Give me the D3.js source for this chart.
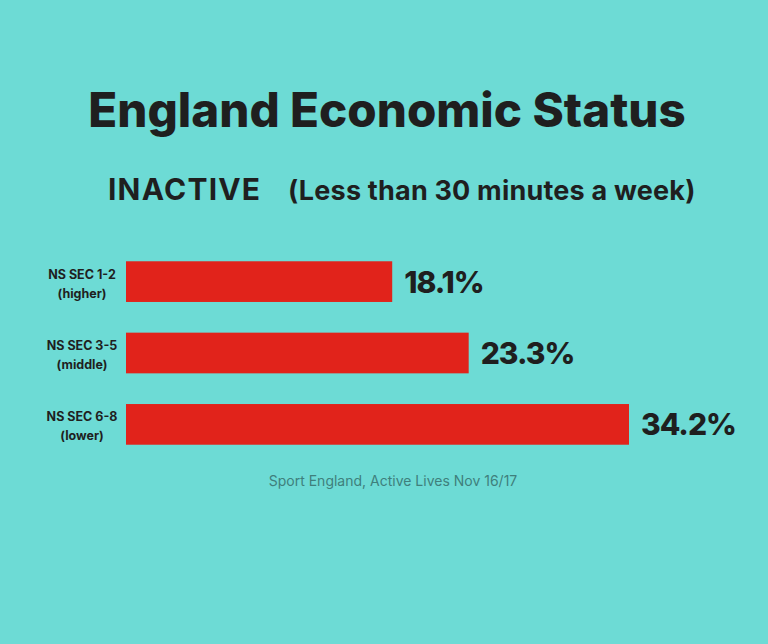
<!DOCTYPE html>
<html><head><meta charset="utf-8">
<script src="https://cdn.jsdelivr.net/npm/d3@7"></script>
<style>html,body{margin:0;padding:0;background:#6ddbd5;}svg{display:block;}</style>
</head><body>
<script>
const categories = ["NS SEC 1-2", "NS SEC 3-5", "NS SEC 6-8"];
const subLabels = ["(higher)", "(middle)", "(lower)"];
const values = [18.1, 23.3, 34.2];
const valueLabels = ["18.1%", "23.3%", "34.2%"];
const title = "England Economic Status";
const subtitleA = "INACTIVE";
const subtitleB = "(Less than 30 minutes a week)";
const source = "Sport England, Active Lives Nov 16/17";

const W = 768, H = 644;
const svg = d3.select("body").append("svg").attr("width", W).attr("height", H);
svg.append("rect").attr("width", W).attr("height", H).attr("fill", "#6ddbd5");

const font = "Inter, 'Open Sans', sans-serif";
const ink = "#1f1f1f";

svg.append("text").attr("x", 387).attr("y", 127).attr("text-anchor", "middle")
  .attr("font-family", font).attr("font-weight", 800).attr("font-size", 47.5)
  .attr("fill", ink).text(title);

svg.append("text").attr("x", 108).attr("y", 200)
  .attr("font-family", font).attr("font-weight", 700).attr("font-size", 30)
  .attr("letter-spacing", 1.2)
  .attr("fill", ink).text(subtitleA);
svg.append("text").attr("x", 288).attr("y", 200)
  .attr("font-family", font).attr("font-weight", 700).attr("font-size", 27)
  .attr("letter-spacing", 0.2)
  .attr("fill", ink).text(subtitleB);

const x = d3.scaleLinear().domain([0, 34.2]).range([126, 629]);
const y = d3.scaleBand().domain(categories).range([247, 459]).paddingInner(0.43).paddingOuter(0.2);

const g = svg.append("g");
g.selectAll("rect.bar").data(categories).join("rect").attr("class", "bar")
  .attr("x", x(0)).attr("y", d => y(d))
  .attr("width", (d, i) => x(values[i]) - x(0)).attr("height", y.bandwidth())
  .attr("fill", "#e1231b");

g.selectAll("text.val").data(categories).join("text").attr("class", "val")
  .attr("x", (d, i) => x(values[i]) + 12).attr("y", d => y(d) + y.bandwidth() / 2 + 11)
  .attr("font-family", font).attr("font-weight", 800).attr("font-size", 30)
  .attr("letter-spacing", -1)
  .attr("fill", ink).text((d, i) => valueLabels[i]);

const lab = g.selectAll("text.cat").data(categories).join("text").attr("class", "cat")
  .attr("x", 82).attr("y", d => y(d) + y.bandwidth() / 2 - 3)
  .attr("text-anchor", "middle")
  .attr("font-family", font).attr("font-weight", 700).attr("font-size", 12.5)
  .attr("fill", ink);
lab.append("tspan").attr("x", 82).text(d => d);
lab.append("tspan").attr("x", 82).attr("dy", 19).text((d, i) => subLabels[i]);

svg.append("text").attr("x", 393).attr("y", 486).attr("text-anchor", "middle")
  .attr("font-family", font).attr("font-size", 14)
  .attr("fill", "#3f7f7c").text(source);
</script>
</body></html>
